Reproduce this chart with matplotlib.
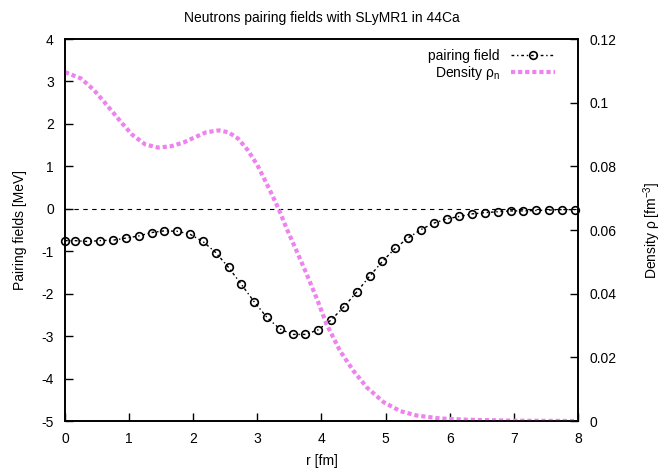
import matplotlib.pyplot as plt

plt.rcParams["font.family"] = ["Liberation Sans", "DejaVu Sans"]
plt.rcParams["font.size"] = 10
plt.rcParams["axes.unicode_minus"] = False
plt.rcParams["mathtext.fontset"] = "custom"
plt.rcParams["mathtext.rm"] = "Liberation Sans"
plt.rcParams["mathtext.it"] = "Liberation Sans"

# pairing field (left axis, MeV)
r_pair = [0.0, 0.15, 0.35, 0.55, 0.75, 0.95, 1.15, 1.35, 1.55, 1.75, 1.95,
          2.15, 2.35, 2.55, 2.75, 2.95, 3.15, 3.35, 3.55, 3.75, 3.95,
          4.15, 4.35, 4.55, 4.75, 4.95, 5.15, 5.35, 5.55, 5.75, 5.95,
          6.15, 6.35, 6.55, 6.75, 6.95, 7.15, 7.35, 7.55, 7.75, 7.95]
pairing = [-0.75, -0.75, -0.77, -0.75, -0.74, -0.69, -0.64, -0.56, -0.52, -0.53, -0.60,
           -0.77, -1.03, -1.38, -1.78, -2.19, -2.56, -2.83, -2.96, -2.96, -2.85,
           -2.62, -2.31, -1.96, -1.59, -1.24, -0.93, -0.69, -0.49, -0.34, -0.24,
           -0.18, -0.12, -0.09, -0.07, -0.05, -0.05, -0.04, -0.03, -0.02, -0.02]

# neutron density (right axis, fm^-3)
r_dens = [0.0, 0.25, 0.45, 0.6, 0.75, 0.9, 1.05, 1.25, 1.45, 1.65, 1.85, 2.0,
          2.2, 2.4, 2.55, 2.7, 2.85, 3.0, 3.2, 3.33, 3.46, 3.61, 3.77, 3.93,
          4.08, 4.29, 4.5, 4.71, 4.97, 5.23, 5.49, 5.85, 6.27, 7.0, 8.0]
density = [0.1096, 0.1076, 0.1040, 0.1005, 0.0969, 0.0933, 0.0899, 0.0869, 0.0859,
           0.0863, 0.0875, 0.0889, 0.0907, 0.0913, 0.0907, 0.0887, 0.0851, 0.0804,
           0.0723, 0.0667, 0.0603, 0.0535, 0.0461, 0.0383, 0.0304, 0.0220, 0.0157,
           0.0105, 0.0059, 0.0031, 0.0017, 0.0008, 0.0004, 0.0001, 0.0]

fig = plt.figure(figsize=(6.72, 4.74), dpi=100)
ax = fig.add_axes([0.0967, 0.1118, 0.7634, 0.8059])
ax2 = ax.twinx()

ax.axhline(0, color="black", linestyle=(0, (4, 4)), linewidth=0.8, zorder=1)

ax.plot(r_pair, pairing, color="black", linestyle=(0, (2, 2, 1, 2)), linewidth=1.0,
        marker="o", markersize=5.5, markerfacecolor="none", markeredgewidth=1.2,
        label="pairing field", zorder=3, clip_on=False)
ax2.plot(r_dens, density, color="violet", linestyle=(0, (1, 0.7)), linewidth=3,
         label="Density ρ$_{\\mathrm{n}}$")

ax.set_xlim(0, 8)
ax.set_ylim(-5, 4)
ax2.set_ylim(0, 0.12)
ax.set_yticks(range(-5, 5))
ax2.set_yticks([0, 0.02, 0.04, 0.06, 0.08, 0.1, 0.12])
ax2.set_yticklabels(["0", "0.02", "0.04", "0.06", "0.08", "0.1", "0.12"])

ax.tick_params(axis="both", direction="in", length=6, width=1, pad=8, top=False)
ax2.tick_params(axis="y", direction="in", length=6, width=1, pad=8)
for a in (ax, ax2):
    for s in a.spines.values():
        s.set_linewidth(1.2)

ax.set_title("Neutrons pairing fields with SLyMR1 in 44Ca", fontsize=10, pad=12)
ax.set_xlabel("r [fm]", labelpad=6)
ax.set_ylabel("Pairing fields [MeV]", labelpad=10)
ax2.set_ylabel("Density ρ [fm$^{\\mathrm{-3}}$]", labelpad=18)

h1, l1 = ax.get_legend_handles_labels()
h2, l2 = ax2.get_legend_handles_labels()
ax2.legend(h1 + h2, l1 + l2, loc="upper right", bbox_to_anchor=(0.975, 1.0),
           frameon=False, markerfirst=False, handlelength=3.2, borderaxespad=0.3,
           labelspacing=0.1, fontsize=10)

fig.savefig("out.png", dpi=100)
